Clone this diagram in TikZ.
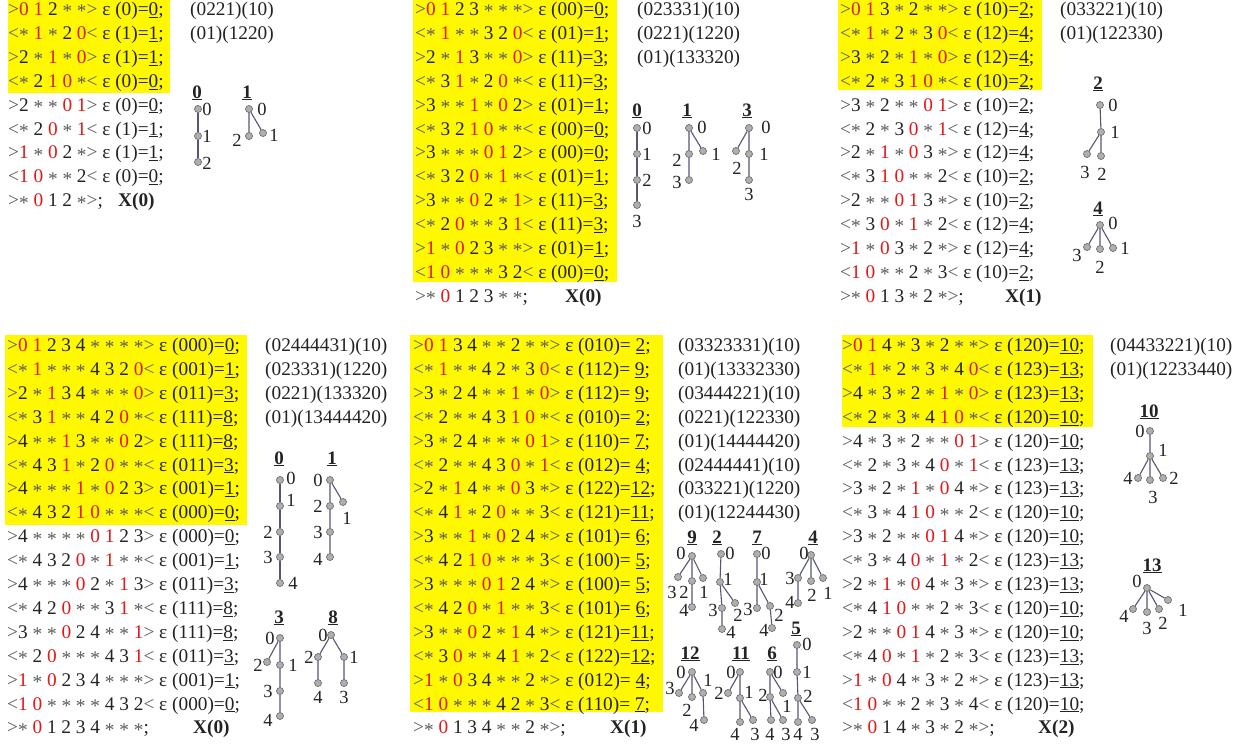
\documentclass[tikz,border=0pt]{standalone}
\usepackage{fontspec}
\setmainfont{Liberation Serif}
\definecolor{myred}{RGB}{225,25,25}
\definecolor{stargray}{RGB}{90,90,90}
\definecolor{txt}{RGB}{35,35,35}
\definecolor{hl}{RGB}{255,248,0}
\definecolor{edgec}{RGB}{85,85,120}
\definecolor{nodef}{RGB}{175,175,175}
\definecolor{noded}{RGB}{110,110,110}
\newif\ifonlyzero
\newcommand\itm[1]{\if0#1\textcolor{myred}{0}\else\if1#1\ifonlyzero1\else\textcolor{myred}{1}\fi\else\if*#1\textcolor{stargray}{\raisebox{-0.12em}{*}}\else#1\fi\fi\fi}
\def\itemsA#1{\itm{#1}\itemsB}
\def\itemsB#1{\ifx\relax#1\else\ \itm{#1}\expandafter\itemsB\fi}
\newcommand\U[1]{\underline{#1}}
\newcommand\erow[5]{\textcolor{stargray}{#1}\itemsA#2\relax\textcolor{stargray}{#3} ε (#4)=#5;}
\newcommand\lrow[3]{{\onlyzerotrue\textcolor{stargray}{#1}\itemsA#2\relax#3}}
\tikzset{
 rowt/.style={anchor=base west,inner sep=0pt,font=\fontsize{19.3}{23}\selectfont,text=txt},
 xlab/.style={anchor=base west,inner sep=0pt,font=\bfseries\fontsize{19.3}{23}\selectfont,text=txt},
 tnode/.style={circle,minimum size=7pt,inner sep=0pt,fill=nodef,draw=noded,line width=0.7pt},
 tlab/.style={inner sep=0pt,font=\fontsize{18.5}{18.5}\selectfont,text=txt},
 ttl/.style={anchor=base,inner sep=0pt,font=\bfseries\fontsize{19}{19}\selectfont,text=txt},
 te/.style={draw=edgec,line width=1.1pt}
}
\newcommand\TN[3]{\node[tnode] (#1) at (#2,#3) {};}
\newcommand\TL[4]{\node[tlab] (#1) at (#2,#3) {#4};}
\newcommand\TT[4]{\node[ttl] (#1) at (#2,#3) {\underline{#4}};}
\begin{document}
\begin{tikzpicture}[x=1pt,y=-1pt]
\useasboundingbox (0,0) rectangle (1247,744);
\fill[white] (0,0) rectangle (1247,744);
% highlights
\fill[hl] (8,0) rectangle (170,93);
\fill[hl] (413,0) rectangle (617,282);
\fill[hl] (838,0) rectangle (1042,90);
\fill[hl] (5,335) rectangle (247,525);
\fill[hl] (410,335) rectangle (663,712);
\fill[hl] (842,335) rectangle (1093,427);

% ===== top-left =====
\node[rowt] (a0) at (8,15.5) {\erow{>}{012**}{>}{0}{\U{0}}};
\node[rowt] (a1) at (8,39.4) {\erow{<}{*1*20}{<}{1}{\U{1}}};
\node[rowt] (a2) at (8,63.3) {\erow{>}{2*1*0}{>}{1}{\U{1}}};
\node[rowt] (a3) at (8,87.2) {\erow{<}{*210*}{<}{0}{\U{0}}};
\node[rowt] (a4) at (8,111.1) {\erow{>}{2**01}{>}{0}{\U{0}}};
\node[rowt] (a5) at (8,135.0) {\erow{<}{*20*1}{<}{1}{\U{1}}};
\node[rowt] (a6) at (8,158.9) {\erow{>}{1*02*}{>}{1}{\U{1}}};
\node[rowt] (a7) at (8,182.8) {\erow{<}{10**2}{<}{0}{\U{0}}};
\node[rowt] (a8) at (8,206.7) {\lrow{>}{*012*}{\textcolor{stargray}{>};}};
\node[xlab] (ax) at (118,206.7) {X(0)};
\node[rowt] (at1) at (190,15.5) {(0221)(10)};
\node[rowt] (at2) at (190,39.4) {(01)(1220)};
% trees
\TT{ta}{197}{98}{0}
\TN{ta0}{198}{109}\TN{ta1}{198}{136}\TN{ta2}{198}{162}
\TL{tal0}{207}{109}{0}\TL{tal1}{207}{136}{1}\TL{tal2}{207}{163}{2}
\draw[te] (ta0)--(ta1) (ta1)--(ta2);
\TT{tb}{247}{98}{1}
\TN{tb0}{249}{109}\TN{tb1}{263}{133}\TN{tb2}{249}{136}
\TL{tbl0}{262}{109}{0}\TL{tbl1}{274}{135}{1}\TL{tbl2}{237}{140}{2}
\draw[te] (tb0)--(tb1) (tb0)--(tb2);

% ===== top-middle =====
\node[rowt] (b0) at (415,15.5) {\erow{>}{0123***}{>}{00}{\U{0}}};
\node[rowt] (b1) at (415,39.4) {\erow{<}{*1**320}{<}{01}{\U{1}}};
\node[rowt] (b2) at (415,63.3) {\erow{>}{2*13**0}{>}{11}{\U{3}}};
\node[rowt] (b3) at (415,87.2) {\erow{<}{*31*20*}{<}{11}{\U{3}}};
\node[rowt] (b4) at (415,111.1) {\erow{>}{3**1*02}{>}{01}{\U{1}}};
\node[rowt] (b5) at (415,135.0) {\erow{<}{*3210**}{<}{00}{\U{0}}};
\node[rowt] (b6) at (415,158.9) {\erow{>}{3***012}{>}{00}{\U{0}}};
\node[rowt] (b7) at (415,182.8) {\erow{<}{*320*1*}{<}{01}{\U{1}}};
\node[rowt] (b8) at (415,206.7) {\erow{>}{3**02*1}{>}{11}{\U{3}}};
\node[rowt] (b9) at (415,230.6) {\erow{<}{*20**31}{<}{11}{\U{3}}};
\node[rowt] (b10) at (415,254.5) {\erow{>}{1*023**}{>}{01}{\U{1}}};
\node[rowt] (b11) at (415,278.4) {\erow{<}{10***32}{<}{00}{\U{0}}};
\node[rowt] (b12) at (415,302.3) {\lrow{>}{*0123**}{;}};
\node[xlab] (bx) at (565,302.3) {X(0)};
\node[rowt] (bt1) at (637,15.5) {(023331)(10)};
\node[rowt] (bt2) at (637,39.4) {(0221)(1220)};
\node[rowt] (bt3) at (637,63.3) {(01)(133320)};
\TT{tc}{637}{116}{0}
\TN{tc0}{637}{128}\TN{tc1}{637}{154}\TN{tc2}{637}{180}\TN{tc3}{637}{205}
\TL{tcl0}{647}{128}{0}\TL{tcl1}{647}{154}{1}\TL{tcl2}{647}{180}{2}\TL{tcl3}{637}{221}{3}
\draw[te] (tc0)--(tc1) (tc1)--(tc2) (tc2)--(tc3);
\TT{td}{687}{116}{1}
\TN{td0}{689}{128}\TN{td1}{703}{151}\TN{td2}{689}{154}\TN{td3}{689}{180}
\TL{tdl0}{702}{127}{0}\TL{tdl1}{716}{154}{1}\TL{tdl2}{677}{160}{2}\TL{tdl3}{677}{182}{3}
\draw[te] (td0)--(td1) (td0)--(td2) (td2)--(td3);
\TT{te}{747}{116}{3}
\TN{te0}{749}{128}\TN{te2}{736}{151}\TN{te1}{749}{154}\TN{te3}{749}{180}
\TL{tel0}{766}{127}{0}\TL{tel2}{737}{168}{2}\TL{tel1}{764}{154}{1}\TL{tel3}{749}{194}{3}
\draw[te] (te0)--(te2) (te0)--(te1) (te1)--(te3);

% ===== top-right =====
\node[rowt] (c0) at (840,15.5) {\erow{>}{013*2**}{>}{10}{\U{2}}};
\node[rowt] (c1) at (840,39.4) {\erow{<}{*1*2*30}{<}{12}{\U{4}}};
\node[rowt] (c2) at (840,63.3) {\erow{>}{3*2*1*0}{>}{12}{\U{4}}};
\node[rowt] (c3) at (840,87.2) {\erow{<}{*2*310*}{<}{10}{\U{2}}};
\node[rowt] (c4) at (840,111.1) {\erow{>}{3*2**01}{>}{10}{\U{2}}};
\node[rowt] (c5) at (840,135.0) {\erow{<}{*2*30*1}{<}{12}{\U{4}}};
\node[rowt] (c6) at (840,158.9) {\erow{>}{2*1*03*}{>}{12}{\U{4}}};
\node[rowt] (c7) at (840,182.8) {\erow{<}{*310**2}{<}{10}{\U{2}}};
\node[rowt] (c8) at (840,206.7) {\erow{>}{2**013*}{>}{10}{\U{2}}};
\node[rowt] (c9) at (840,230.6) {\erow{<}{*30*1*2}{<}{12}{\U{4}}};
\node[rowt] (c10) at (840,254.5) {\erow{>}{1*03*2*}{>}{12}{\U{4}}};
\node[rowt] (c11) at (840,278.4) {\erow{<}{10**2*3}{<}{10}{\U{2}}};
\node[rowt] (c12) at (840,302.3) {\lrow{>}{*013*2*}{\textcolor{stargray}{>};}};
\node[xlab] (cx) at (1005,302.3) {X(1)};
\node[rowt] (ct1) at (1060,15.5) {(033221)(10)};
\node[rowt] (ct2) at (1060,39.4) {(01)(122330)};
\TT{tf}{1098}{89}{2}
\TN{tf0}{1100}{105}\TN{tf1}{1101}{132}\TN{tf3}{1087}{154}\TN{tf2}{1101}{156}
\TL{tfl0}{1113}{105}{0}\TL{tfl1}{1115}{132}{1}\TL{tfl3}{1085}{172}{3}\TL{tfl2}{1102}{174}{2}
\draw[te] (tf0)--(tf1) (tf1)--(tf3) (tf1)--(tf2);
\TT{tg}{1098}{214}{4}
\TN{tg0}{1100}{225}\TN{tg3}{1087}{247}\TN{tg2}{1100}{249}\TN{tg1}{1113}{248}
\TL{tgl0}{1113}{223}{0}\TL{tgl3}{1077}{255}{3}\TL{tgl2}{1100}{267}{2}\TL{tgl1}{1125}{248}{1}
\draw[te] (tg0)--(tg3) (tg0)--(tg2) (tg0)--(tg1);

% ===== bottom-left =====
\node[rowt] (d0) at (7,351.5) {\erow{>}{01234****}{>}{000}{\U{0}}};
\node[rowt] (d1) at (7,375.4) {\erow{<}{*1***4320}{<}{001}{\U{1}}};
\node[rowt] (d2) at (7,399.3) {\erow{>}{2*134***0}{>}{011}{\U{3}}};
\node[rowt] (d3) at (7,423.2) {\erow{<}{*31**420*}{<}{111}{\U{8}}};
\node[rowt] (d4) at (7,447.1) {\erow{>}{4**13**02}{>}{111}{\U{8}}};
\node[rowt] (d5) at (7,471.0) {\erow{<}{*431*20**}{<}{011}{\U{3}}};
\node[rowt] (d6) at (7,494.9) {\erow{>}{4***1*023}{>}{001}{\U{1}}};
\node[rowt] (d7) at (7,518.8) {\erow{<}{*43210***}{<}{000}{\U{0}}};
\node[rowt] (d8) at (7,542.7) {\erow{>}{4****0123}{>}{000}{\U{0}}};
\node[rowt] (d9) at (7,566.6) {\erow{<}{*4320*1**}{<}{001}{\U{1}}};
\node[rowt] (d10) at (7,590.5) {\erow{>}{4***02*13}{>}{011}{\U{3}}};
\node[rowt] (d11) at (7,614.4) {\erow{<}{*420**31*}{<}{111}{\U{8}}};
\node[rowt] (d12) at (7,638.3) {\erow{>}{3**024**1}{>}{111}{\U{8}}};
\node[rowt] (d13) at (7,662.2) {\erow{<}{*20***431}{<}{011}{\U{3}}};
\node[rowt] (d14) at (7,686.1) {\erow{>}{1*0234***}{>}{001}{\U{1}}};
\node[rowt] (d15) at (7,710.0) {\erow{<}{10****432}{<}{000}{\U{0}}};
\node[rowt] (d16) at (7,733.9) {\lrow{>}{*01234***}{;}};
\node[xlab] (dx) at (193,733.9) {X(0)};
\node[rowt] (dt1) at (265,351.5) {(02444431)(10)};
\node[rowt] (dt2) at (265,375.4) {(023331)(1220)};
\node[rowt] (dt3) at (265,399.3) {(0221)(133320)};
\node[rowt] (dt4) at (265,423.2) {(01)(13444420)};
\TT{th}{279}{464}{0}
\TN{th0}{280}{480}\TN{th1}{280}{506}\TN{th2}{280}{532}\TN{th3}{280}{557}\TN{th4}{280}{583}
\TL{thl0}{291}{478}{0}\TL{thl1}{291}{500}{1}\TL{thl2}{268}{532}{2}\TL{thl3}{268}{557}{3}\TL{thl4}{293}{583}{4}
\draw[te] (th0)--(th1) (th1)--(th2) (th2)--(th3) (th3)--(th4);
\TT{ti}{332}{464}{1}
\TN{ti0}{330}{480}\TN{ti1}{343}{502}\TN{ti2}{330}{506}\TN{ti3}{330}{532}\TN{ti4}{330}{557}
\TL{til0}{318}{480}{0}\TL{til1}{347}{518}{1}\TL{til2}{318}{506}{2}\TL{til3}{318}{532}{3}\TL{til4}{318}{559}{4}
\draw[te] (ti0)--(ti1) (ti0)--(ti2) (ti2)--(ti3) (ti3)--(ti4);
\TT{tj}{279}{623}{3}
\TN{tj0}{280}{638}\TN{tj2}{267}{662}\TN{tj1}{280}{665}\TN{tj3}{280}{691}\TN{tj4}{280}{716}
\TL{tjl0}{270}{638}{0}\TL{tjl2}{258}{665}{2}\TL{tjl1}{293}{665}{1}\TL{tjl3}{268}{691}{3}\TL{tjl4}{268}{720}{4}
\draw[te] (tj0)--(tj2) (tj0)--(tj1) (tj1)--(tj3) (tj3)--(tj4);
\TT{tk}{333}{623}{8}
\TN{tk0}{331}{635}\TN{tk2}{318}{657}\TN{tk1}{344}{657}\TN{tk4}{318}{683}\TN{tk3}{344}{683}
\TL{tkl0}{323}{635}{0}\TL{tkl2}{309}{657}{2}\TL{tkl1}{354}{657}{1}\TL{tkl4}{318}{697}{4}\TL{tkl3}{344}{697}{3}
\draw[te] (tk0)--(tk2) (tk0)--(tk1) (tk2)--(tk4) (tk1)--(tk3);

% ===== bottom-middle =====
\node[rowt] (e0) at (413,351.5) {\erow{>}{0134**2**}{>}{010}{\ \U{2}}};
\node[rowt] (e1) at (413,375.4) {\erow{<}{*1**42*30}{<}{112}{\ \U{9}}};
\node[rowt] (e2) at (413,399.3) {\erow{>}{3*24**1*0}{>}{112}{\ \U{9}}};
\node[rowt] (e3) at (413,423.2) {\erow{<}{*2**4310*}{<}{010}{\ \U{2}}};
\node[rowt] (e4) at (413,447.1) {\erow{>}{3*24***01}{>}{110}{\ \U{7}}};
\node[rowt] (e5) at (413,471.0) {\erow{<}{*2**430*1}{<}{012}{\ \U{4}}};
\node[rowt] (e6) at (413,494.9) {\erow{>}{2*14**03*}{>}{122}{\U{12}}};
\node[rowt] (e7) at (413,518.8) {\erow{<}{*41*20**3}{<}{121}{\U{11}}};
\node[rowt] (e8) at (413,542.7) {\erow{>}{3**1*024*}{>}{101}{\ \U{6}}};
\node[rowt] (e9) at (413,566.6) {\erow{<}{*4210***3}{<}{100}{\ \U{5}}};
\node[rowt] (e10) at (413,590.5) {\erow{>}{3***0124*}{>}{100}{\ \U{5}}};
\node[rowt] (e11) at (413,614.4) {\erow{<}{*420*1**3}{<}{101}{\ \U{6}}};
\node[rowt] (e12) at (413,638.3) {\erow{>}{3**02*14*}{>}{121}{\U{11}}};
\node[rowt] (e13) at (413,662.2) {\erow{<}{*30**41*2}{<}{122}{\U{12}}};
\node[rowt] (e14) at (413,686.1) {\erow{>}{1*034**2*}{>}{012}{\ \U{4}}};
\node[rowt] (e15) at (413,710.0) {\erow{<}{10***42*3}{<}{110}{\ \U{7}}};
\node[rowt] (e16) at (413,733.9) {\lrow{>}{*0134**2*}{\textcolor{stargray}{>};}};
\node[xlab] (ex) at (610,733.9) {X(1)};
\node[rowt] (et1) at (678,351.5) {(03323331)(10)};
\node[rowt] (et2) at (678,375.4) {(01)(13332330)};
\node[rowt] (et3) at (678,399.3) {(03444221)(10)};
\node[rowt] (et4) at (678,423.2) {(0221)(122330)};
\node[rowt] (et5) at (678,447.1) {(01)(14444420)};
\node[rowt] (et6) at (678,471.0) {(02444441)(10)};
\node[rowt] (et7) at (678,494.9) {(033221)(1220)};
\node[rowt] (et8) at (678,518.8) {(01)(12244430)};
% tree 9
\TT{tm}{692}{543}{9}
\TN{tm0}{692}{556}\TN{tm3}{678}{577}\TN{tm2}{692}{581}\TN{tm1}{703}{578}\TN{tm4}{692}{607}
\TL{tml0}{681}{553}{0}\TL{tml3}{672}{592}{3}\TL{tml2}{684}{592}{2}\TL{tml1}{704}{592}{1}\TL{tml4}{684}{610}{4}
\draw[te] (tm0)--(tm3) (tm0)--(tm2) (tm0)--(tm1) (tm2)--(tm4);
% tree 2
\TT{tn}{717}{543}{2}
\TN{tn0}{721}{554}\TN{tn1}{720}{582}\TN{tn3}{722}{608}\TN{tn2}{735}{603}\TN{tn4}{722}{629}
\TL{tnl0}{730}{553}{0}\TL{tnl1}{728}{579}{1}\TL{tnl3}{713}{610}{3}\TL{tnl2}{738}{615}{2}\TL{tnl4}{731}{632}{4}
\draw[te] (tn0)--(tn1) (tn1)--(tn3) (tn1)--(tn2) (tn3)--(tn4);
% tree 7
\TT{to}{757}{543}{7}
\TN{to0}{757}{554}\TN{to1}{757}{582}\TN{to3}{757}{608}\TN{to2}{770}{606}\TN{to4}{772}{628}
\TL{tol0}{766}{553}{0}\TL{tol1}{764}{579}{1}\TL{tol3}{748}{609}{3}\TL{tol2}{779}{615}{2}\TL{tol4}{764}{630}{4}
\draw[te] (to0)--(to1) (to1)--(to3) (to1)--(to2) (to2)--(to4);
% tree 4
\TT{tp}{813}{543}{4}
\TN{tp0}{811}{555}\TN{tp3}{798}{578}\TN{tp2}{811}{581}\TN{tp1}{823}{578}\TN{tp4}{798}{603}
\TL{tpl0}{804}{553}{0}\TL{tpl3}{790}{578}{3}\TL{tpl2}{812}{595}{2}\TL{tpl1}{828}{593}{1}\TL{tpl4}{790}{602}{4}
\draw[te] (tp0)--(tp3) (tp0)--(tp2) (tp0)--(tp1) (tp3)--(tp4);
% tree 5
\TT{tq}{796}{634}{5}
\TN{tq0}{797}{645}\TN{tq1}{797}{672}\TN{tq2}{798}{698}\TN{tq4}{798}{722}\TN{tq3}{812}{720}
\TL{tql0}{807}{644}{0}\TL{tql1}{807}{672}{1}\TL{tql2}{808}{696}{2}\TL{tql4}{798}{734}{4}\TL{tql3}{815}{734}{3}
\draw[te] (tq0)--(tq1) (tq1)--(tq2) (tq2)--(tq4) (tq2)--(tq3);
% tree 12
\TT{tr}{690}{659}{12}
\TN{tr0}{692}{672}\TN{tr3}{679}{693}\TN{tr2}{692}{697}\TN{tr1}{703}{693}\TN{tr4}{704}{720}
\TL{trl0}{681}{672}{0}\TL{trl3}{670}{688}{3}\TL{trl2}{687}{710}{2}\TL{trl1}{708}{680}{1}\TL{trl4}{694}{725}{4}
\draw[te] (tr0)--(tr3) (tr0)--(tr2) (tr0)--(tr1) (tr1)--(tr4);
% tree 11
\TT{ts}{741}{659}{11}
\TN{ts0}{740}{672}\TN{ts2}{728}{693}\TN{ts1}{740}{698}\TN{ts4}{740}{722}\TN{ts3}{753}{720}
\TL{tsl0}{731}{672}{0}\TL{tsl2}{719}{693}{2}\TL{tsl1}{749}{692}{1}\TL{tsl4}{735}{734}{4}\TL{tsl3}{755}{734}{3}
\draw[te] (ts0)--(ts2) (ts0)--(ts1) (ts1)--(ts4) (ts1)--(ts3);
% tree 6
\TT{tt}{772}{659}{6}
\TN{tt0}{770}{672}\TN{tt2}{770}{697}\TN{tt1}{783}{693}\TN{tt4}{771}{720}\TN{tt3}{783}{720}
\TL{ttl0}{778}{672}{0}\TL{ttl2}{763}{695}{2}\TL{ttl1}{787}{706}{1}\TL{ttl4}{770}{734}{4}\TL{ttl3}{786}{734}{3}
\draw[te] (tt0)--(tt2) (tt0)--(tt1) (tt2)--(tt4) (tt2)--(tt3);

% ===== bottom-right =====
\node[rowt] (f0) at (842,351.5) {\erow{>}{014*3*2**}{>}{120}{\U{10}}};
\node[rowt] (f1) at (842,375.4) {\erow{<}{*1*2*3*40}{<}{123}{\U{13}}};
\node[rowt] (f2) at (842,399.3) {\erow{>}{4*3*2*1*0}{>}{123}{\U{13}}};
\node[rowt] (f3) at (842,423.2) {\erow{<}{*2*3*410*}{<}{120}{\U{10}}};
\node[rowt] (f4) at (842,447.1) {\erow{>}{4*3*2**01}{>}{120}{\U{10}}};
\node[rowt] (f5) at (842,471.0) {\erow{<}{*2*3*40*1}{<}{123}{\U{13}}};
\node[rowt] (f6) at (842,494.9) {\erow{>}{3*2*1*04*}{>}{123}{\U{13}}};
\node[rowt] (f7) at (842,518.8) {\erow{<}{*3*410**2}{<}{120}{\U{10}}};
\node[rowt] (f8) at (842,542.7) {\erow{>}{3*2**014*}{>}{120}{\U{10}}};
\node[rowt] (f9) at (842,566.6) {\erow{<}{*3*40*1*2}{<}{123}{\U{13}}};
\node[rowt] (f10) at (842,590.5) {\erow{>}{2*1*04*3*}{>}{123}{\U{13}}};
\node[rowt] (f11) at (842,614.4) {\erow{<}{*410**2*3}{<}{120}{\U{10}}};
\node[rowt] (f12) at (842,638.3) {\erow{>}{2**014*3*}{>}{120}{\U{10}}};
\node[rowt] (f13) at (842,662.2) {\erow{<}{*40*1*2*3}{<}{123}{\U{13}}};
\node[rowt] (f14) at (842,686.1) {\erow{>}{1*04*3*2*}{>}{123}{\U{13}}};
\node[rowt] (f15) at (842,710.0) {\erow{<}{10**2*3*4}{<}{120}{\U{10}}};
\node[rowt] (f16) at (842,733.9) {\lrow{>}{*014*3*2*}{\textcolor{stargray}{>};}};
\node[xlab] (fx) at (1038,733.9) {X(2)};
\node[rowt] (ft1) at (1110,351.5) {(04433221)(10)};
\node[rowt] (ft2) at (1110,375.4) {(01)(12233440)};
\TT{tu}{1149}{417}{10}
\TN{tu0}{1150}{431}\TN{tu1}{1150}{456}\TN{tu4}{1138}{478}\TN{tu3}{1150}{480}\TN{tu2}{1163}{478}
\TL{tul0}{1140}{431}{0}\TL{tul1}{1163}{450}{1}\TL{tul4}{1128}{478}{4}\TL{tul3}{1153}{497}{3}\TL{tul2}{1174}{478}{2}
\draw[te] (tu0)--(tu1) (tu1)--(tu4) (tu1)--(tu3) (tu1)--(tu2);
\TT{tv}{1152}{571}{13}
\TN{tv0}{1147}{588}\TN{tv4}{1133}{609}\TN{tv3}{1147}{612}\TN{tv2}{1159}{609}\TN{tv1}{1168}{600}
\TL{tvl0}{1137}{581}{0}\TL{tvl4}{1124}{616}{4}\TL{tvl3}{1147}{628}{3}\TL{tvl2}{1163}{623}{2}\TL{tvl1}{1183}{610}{1}
\draw[te] (tv0)--(tv4) (tv0)--(tv3) (tv0)--(tv2) (tv0)--(tv1);
\end{tikzpicture}
\end{document}
